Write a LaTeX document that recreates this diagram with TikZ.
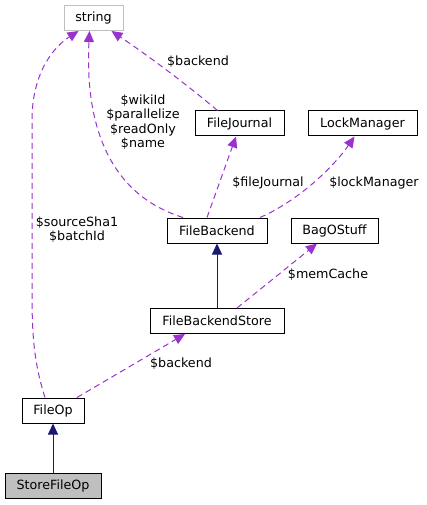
\documentclass[tikz,border=0pt]{standalone}
\usepackage{fontspec}
\setmainfont{DejaVu Sans}
\usetikzlibrary{arrows.meta}
\definecolor{member}{HTML}{9A32CD}
\definecolor{inherit}{HTML}{191970}
\definecolor{grey75}{HTML}{BFBFBF}
\newcommand{\dxfont}{\fontsize{12.7}{14.5}\selectfont}
\tikzset{
    cls/.style={draw=black, fill=white, line width=1pt, minimum height=25pt, inner sep=0pt, font=\dxfont},
    lbl/.style={align=center, inner sep=0pt, font=\dxfont},
    usedby/.style={draw=member, line width=1pt, dash pattern=on 6pt off 4pt, -{Triangle[length=11pt, width=10pt, fill=member]}},
    derived/.style={draw=inherit, line width=1pt, -{Triangle[length=11pt, width=10pt, fill=inherit]}}
}

\begin{document}
\begin{tikzpicture}[x=1pt, y=-1pt]
    \useasboundingbox (0,0) rectangle (427,505);
    \node[cls, draw=grey75, minimum width=59pt] (string) at (93.5,18) {string};
    \node[cls, minimum width=89pt] (journal) at (239.5,123.5) {FileJournal};
    \node[cls, minimum width=109pt] (lockmgr) at (362.5,123.5) {LockManager};
    \node[cls, minimum width=100pt] (backend) at (217,230.5) {FileBackend};
    \node[cls, minimum width=87pt] (bag) at (334.5,230.5) {BagOStuff};
    \node[cls, minimum width=134pt] (store) at (217,321) {FileBackendStore};
    \node[cls, minimum width=62pt] (fileop) at (53,410.5) {FileOp};
    \node[cls, fill=grey75, minimum width=96pt] (storeop) at (53,486) {StoreFileOp};
    % members pointing at string
    \draw[usedby] ([xshift=-8pt]fileop.north) .. controls (33,360) and (32,330) .. (32,290) -- (32,120) .. controls (32,75) and (52,48) .. ([xshift=-15pt]string.south);
    \draw[usedby] ([xshift=-34pt]backend.north) .. controls (95,190) and (86,100) .. ([xshift=-4pt]string.south);
    \draw[usedby] ([xshift=-22pt]journal.north) .. controls (186,84) and (150,57) .. ([xshift=18pt]string.south);
    % other members
    \draw[usedby] ([xshift=-10pt]backend.north) -- ([xshift=-3.5pt]journal.south);
    \draw[usedby] ([xshift=43pt]backend.north) .. controls (300,200) and (335,165) .. ([xshift=-8pt]lockmgr.south);
    \draw[usedby] ([xshift=20pt]store.north) -- ([xshift=-17.5pt]bag.south);
    \draw[usedby] ([xshift=24pt]fileop.north) -- ([xshift=-32pt]store.south);
    % inheritance
    \draw[derived] (store.north) -- (backend.south);
    \draw[derived] (storeop.north) -- (fileop.south);
    % labels
    \node[lbl] (lsource) at (77,229.5) {\$sourceSha1\\\$batchId};
    \node[lbl] (lwiki) at (143,122) {\$wikiId\\\$parallelize\\\$readOnly\\\$name};
    \node[lbl] (ljbackend) at (198,62) {\$backend};
    \node[lbl] (ljournal) at (268,183) {\$fileJournal};
    \node[lbl] (llock) at (374,183) {\$lockManager};
    \node[lbl] (lmem) at (328,275) {\$memCache};
    \node[lbl] (lbackend) at (181,364) {\$backend};
\end{tikzpicture}
\end{document}
